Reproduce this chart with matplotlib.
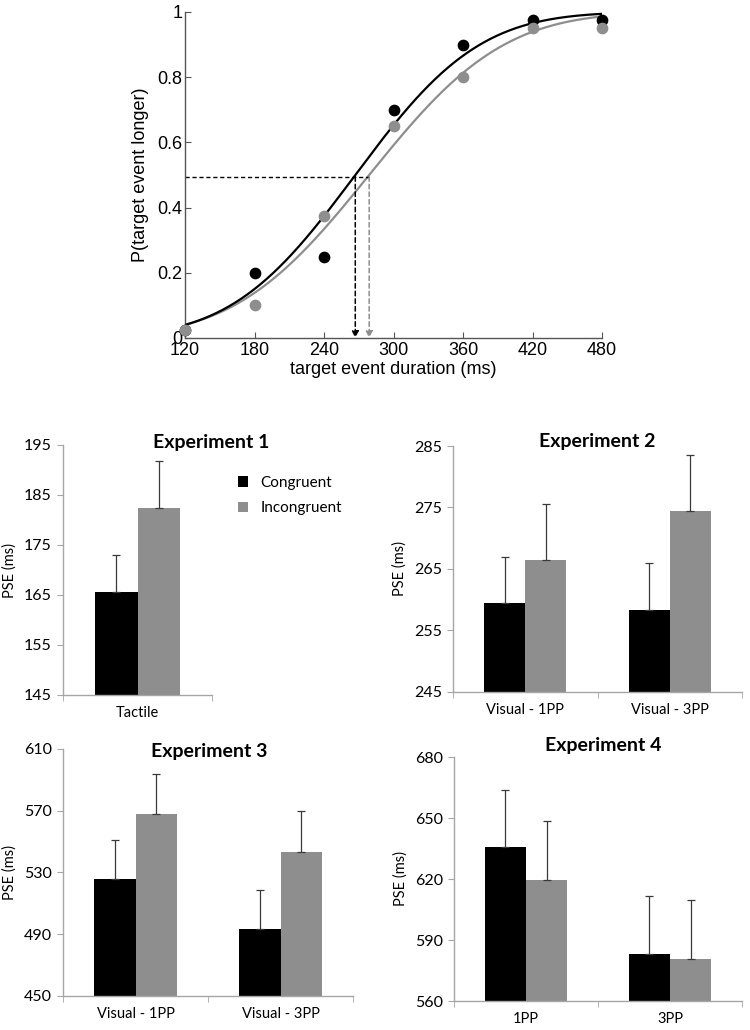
import numpy as np
import matplotlib
matplotlib.use("Agg")
import matplotlib.pyplot as plt
from matplotlib.patches import Patch
from math import erf, sqrt

# ---------------- data ----------------
durations = [120, 180, 240, 300, 360, 420, 480]
p_congruent = [0.025, 0.20, 0.25, 0.70, 0.90, 0.975, 0.975]
p_incongruent = [0.025, 0.10, 0.375, 0.65, 0.80, 0.95, 0.95]
# fitted psychometric (cumulative normal) parameters: PSE and sigma
fit_pse = [267, 279]
fit_sigma = [84, 91]
pse_level = 0.495
x_ticks_top = [120, 180, 240, 300, 360, 420, 480]
y_ticks_top = [0, 0.2, 0.4, 0.6, 0.8, 1]
y_ticklabels_top = ["0", "0.2", "0.4", "0.6", "0.8", "1"]

exp1_labels = ["Tactile"]
exp1_cong = [165.6]
exp1_cong_err = [7.4]
exp1_incong = [182.5]
exp1_incong_err = [9.4]

exp2_labels = ["Visual - 1PP", "Visual - 3PP"]
exp2_cong = [259.5, 258.3]
exp2_cong_err = [7.45, 7.6]
exp2_incong = [266.5, 274.5]
exp2_incong_err = [9.0, 9.1]

exp3_labels = ["Visual - 1PP", "Visual - 3PP"]
exp3_cong = [525.7, 493.2]
exp3_cong_err = [25.3, 25.6]
exp3_incong = [567.8, 543.6]
exp3_incong_err = [26.2, 26.2]

exp4_labels = ["1PP", "3PP"]
exp4_cong = [635.9, 583.3]
exp4_cong_err = [27.8, 28.2]
exp4_incong = [619.5, 580.5]
exp4_incong_err = [28.8, 29.0]

legend_labels = ["Congruent", "Incongruent"]
titles = ["Experiment 1", "Experiment 2", "Experiment 3", "Experiment 4"]

GRAY = "#8e8e8e"
SPINE = "#a6a6a6"
BARFONT = "Lato"

W, H = 750, 1030
fig = plt.figure(figsize=(W / 100, H / 100), dpi=100)


def frac(l, r, t, b):
    return [l / W, 1 - b / H, (r - l) / W, (b - t) / H]


# ---------------- top psychometric plot ----------------
ax = fig.add_axes(frac(185, 602, 12, 338))
xx = np.linspace(120, 480, 400)


def cdf(x, mu, s):
    return np.array([0.5 * (1 + erf((v - mu) / (s * sqrt(2)))) for v in x])


ax.plot(xx, cdf(xx, fit_pse[1], fit_sigma[1]), color=GRAY, lw=1.6, zorder=2)
ax.plot(xx, cdf(xx, fit_pse[0], fit_sigma[0]), color="black", lw=1.6, zorder=3)
ax.scatter(durations, p_congruent, s=55, color="black", zorder=4, clip_on=False)
ax.scatter(durations, p_incongruent, s=55, color=GRAY, zorder=5, clip_on=False)

ax.plot([120, fit_pse[1]], [pse_level, pse_level], ls=(0, (3, 2)), color="black", lw=1.0)
for pse, col in zip(fit_pse, ["black", GRAY]):
    ax.annotate("", xy=(pse, 0), xytext=(pse, pse_level),
                arrowprops=dict(arrowstyle="-|>", color=col, lw=1.1, ls=(0, (3, 2)),
                                mutation_scale=10, shrinkA=0, shrinkB=0))

ax.set_xlim(120, 480)
ax.set_ylim(0, 1)
ax.set_xticks(x_ticks_top)
ax.set_yticks(y_ticks_top)
ax.set_yticklabels(y_ticklabels_top)
for s in ["top", "right"]:
    ax.spines[s].set_visible(False)
for s in ["left", "bottom"]:
    ax.spines[s].set_color("#555555")
    ax.spines[s].set_linewidth(1.0)
ax.tick_params(direction="in", length=4, color="#555555", labelsize=13,
               pad=2, labelfontfamily="Liberation Sans")
ax.tick_params(axis="x", pad=3)
ax.set_xlabel("target event duration (ms)", fontsize=13, family="Liberation Sans", labelpad=1)
ax.set_ylabel("P(target event longer)", fontsize=13, family="Liberation Sans", labelpad=6)


# ---------------- bar panels ----------------
def bar_panel(rect, labels, cong, cong_err, incong, incong_err, ylim, yticks,
              title, title_x, title_y):
    a = fig.add_axes(rect)
    x = np.arange(len(labels))
    w = 0.285
    a.bar(x - w / 2, cong, w, color="black", zorder=2)
    a.bar(x + w / 2, incong, w, color=GRAY, zorder=2)
    a.errorbar(x - w / 2, cong, yerr=[np.zeros(len(x)), cong_err], fmt="none",
               ecolor="#3a3a3a", elinewidth=0.9, capsize=3, capthick=0.9, zorder=3)
    a.errorbar(x + w / 2, incong, yerr=[np.zeros(len(x)), incong_err], fmt="none",
               ecolor="#3a3a3a", elinewidth=0.9, capsize=3, capthick=0.9, zorder=3)
    a.set_xlim(-0.5, len(labels) - 0.5)
    a.set_ylim(*ylim)
    a.set_yticks(yticks)
    a.set_xticks(x)
    a.set_xticklabels(labels)
    a.set_xticks(np.arange(len(labels) + 1) - 0.5, minor=True)
    a.tick_params(axis="x", which="major", length=0, labelsize=10.5, pad=8)
    a.tick_params(axis="x", which="minor", length=4, color=SPINE, direction="out")
    a.tick_params(axis="y", length=4, color=SPINE, direction="out", labelsize=11.5, pad=4)
    for lab in a.get_xticklabels() + a.get_yticklabels():
        lab.set_family(BARFONT)
    for s in ["top", "right"]:
        a.spines[s].set_visible(False)
    for s in ["left", "bottom"]:
        a.spines[s].set_color(SPINE)
        a.spines[s].set_linewidth(1.0)
    a.set_ylabel("PSE (ms)", fontsize=10.5, family=BARFONT, labelpad=5)
    fig.text(title_x / W, 1 - title_y / H, title, fontsize=14, fontweight="bold",
             family=BARFONT, ha="center", va="center")
    return a


bar_panel(frac(63, 212, 445, 695), exp1_labels, exp1_cong, exp1_cong_err,
          exp1_incong, exp1_incong_err, (145, 195), [145, 155, 165, 175, 185, 195],
          titles[0], 211, 443)
handles = [Patch(facecolor="black"), Patch(facecolor=GRAY)]
fig.legend(handles, legend_labels, loc="upper left", bbox_to_anchor=(224 / W, 1 - 462 / H),
           frameon=False, prop={"family": BARFONT, "size": 11}, handlelength=0.7,
           handleheight=0.7, handletextpad=0.8, labelspacing=0.75)

bar_panel(frac(453, 742, 446, 692), exp2_labels, exp2_cong, exp2_cong_err,
          exp2_incong, exp2_incong_err, (245, 285), [245, 255, 265, 275, 285], titles[1],
          597, 441)
bar_panel(frac(63, 353, 749, 996), exp3_labels, exp3_cong, exp3_cong_err,
          exp3_incong, exp3_incong_err, (450, 610), [450, 490, 530, 570, 610], titles[2],
          209, 751)
bar_panel(frac(454, 742, 757, 1001), exp4_labels, exp4_cong, exp4_cong_err,
          exp4_incong, exp4_incong_err, (560, 680), [560, 590, 620, 650, 680], titles[3],
          603, 745)

fig.savefig("out.png", dpi=100, facecolor="white")
